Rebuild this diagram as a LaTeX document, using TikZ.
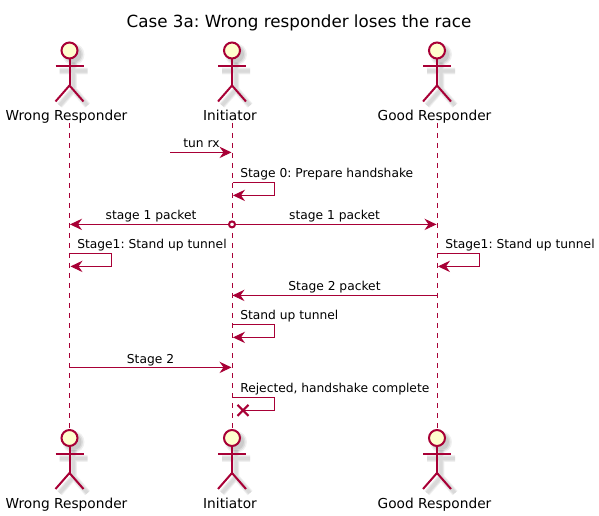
\documentclass[tikz,border=0pt]{standalone}
\usepackage{fontspec}
\setmainfont{DejaVu Sans}
\frenchspacing
\usetikzlibrary{arrows.meta,calc}
\definecolor{puml}{HTML}{A80036}
\definecolor{headfill}{HTML}{FEFECE}
\tikzset{
  x=0.75pt,y=-0.75pt,
  msg/.style={draw=puml,line width=0.75pt,-{Stealth[length=9pt,width=8.5pt,inset=3pt]}},
  msgplain/.style={draw=puml,line width=0.75pt},
  life/.style={draw=puml,line width=0.75pt,dash pattern=on 3.75pt off 3.75pt},
  limb/.style={draw=puml,line width=1.5pt},
  shadeA/.style={draw=black,line width=5pt,opacity=0.05},
  shadeB/.style={draw=black,line width=3.8pt,opacity=0.05},
  shadeC/.style={draw=black,line width=2.4pt,opacity=0.05},
  actorlabel/.style={font=\fontsize{10.3pt}{12pt}\selectfont,text=black,inner sep=0pt,anchor=base},
  msglabel/.style={font=\fontsize{9.2pt}{11pt}\selectfont,text=black,inner sep=0pt,anchor=base},
  titlelabel/.style={font=\fontsize{12.55pt}{16pt}\selectfont,text=black,inner sep=0pt,anchor=center},
}
\newcommand{\stickshadow}{%
  \foreach \st in {shadeA,shadeB,shadeC}{%
    \draw[\st] (4,12) -- (4,39) (-10,20.5) -- (18,20.5) (-10,55) -- (4,39) -- (18,55);
  }%
  \fill[black,opacity=0.06] (4,4) circle (11);
  \fill[black,opacity=0.08] (4,4) circle (9.5);
  \fill[black,opacity=0.08] (4,4) circle (8);
}
% #1 prefix, #2 x of centre, #3 y of head centre
\newcommand{\stickman}[3]{%
  \begin{scope}[shift={(#2,#3)}]
    \stickshadow
    \node[circle,draw=puml,fill=headfill,line width=1.5pt,minimum size=12pt,inner sep=0pt] (#1head) at (0,0) {};
    \draw[limb] (#1head.south) -- (0,35) coordinate (#1hip);
    \coordinate (#1armL) at (-14,16); \coordinate (#1armR) at (14,16);
    \coordinate (#1legL) at (-14,51); \coordinate (#1legR) at (14,51);
    \draw[limb] (#1armL) -- (#1armR);
    \draw[limb] (#1legL) -- (#1hip) -- (#1legR);
  \end{scope}}
\begin{document}
\begin{tikzpicture}
\useasboundingbox (0,0) rectangle (599,516);
\fill[white] (0,0) rectangle (599,516);
\node[titlelabel] (title) at (299,23) {Case 3a: Wrong responder loses the race};

% lifelines
\coordinate (wtop) at (69.5,123); \coordinate (wbot) at (69.5,428);
\coordinate (itop) at (232,123);  \coordinate (ibot) at (232,428);
\coordinate (gtop) at (437,123);  \coordinate (gbot) at (437,428);
\draw[life] (wtop) -- (wbot);
\draw[life] (itop) -- (ibot);
\draw[life] (gtop) -- (gbot);

% actors
\stickman{wt}{69.5}{50.5}
\stickman{it}{232}{50.5}
\stickman{gt}{437}{50.5}
\stickman{wb}{69.5}{438}
\stickman{ib}{232}{438}
\stickman{gb}{437}{438}
\node[actorlabel] (wtl) at (66.5,120.5) {Wrong Responder};
\node[actorlabel] (itl) at (230,120.5) {Initiator};
\node[actorlabel] (gtl) at (434.5,120.5) {Good Responder};
\node[actorlabel] (wbl) at (66.5,508) {Wrong Responder};
\node[actorlabel] (ibl) at (230,508) {Initiator};
\node[actorlabel] (gbl) at (434.5,508) {Good Responder};

% tun rx
\coordinate (m0s) at (170,152.4); \coordinate (m0e) at (231.5,152.4);
\draw[msg] (m0s) -- (m0e);
\node[msglabel] at (201.5,148) {tun rx};

% Stage 0
\coordinate (s0a) at (232.5,182.4); \coordinate (s0b) at (274.5,182.4);
\coordinate (s0c) at (274.5,195.4); \coordinate (s0d) at (233,195.4);
\draw[msg] (s0a) -- (s0b) -- (s0c) -- (s0d);
\node[msglabel,anchor=base west] at (240,178) {Stage 0: Prepare handshake};

% stage 1 packets
\node[circle,draw=puml,fill=white,line width=1.5pt,minimum size=4.5pt,inner sep=0pt] (lost) at (232,224.4) {};
\coordinate (p1w) at (70,224.4); \coordinate (p1g) at (436.5,224.4);
\draw[msg] (lost) -- (p1w);
\draw[msg] (lost) -- (p1g);
\node[msglabel] at (151,220) {stage 1 packet};
\node[msglabel] at (334.5,220) {stage 1 packet};

% Stand up tunnel: wrong responder
\coordinate (s1a) at (70,253.4); \coordinate (s1b) at (111.5,253.4);
\coordinate (s1c) at (111.5,266.4); \coordinate (s1d) at (70.5,266.4);
\draw[msg] (s1a) -- (s1b) -- (s1c) -- (s1d);
\node[msglabel,anchor=base west] at (77,249) {Stage1: Stand up tunnel};

% Stand up tunnel: good responder
\coordinate (s2a) at (437.5,253.4); \coordinate (s2b) at (479.5,253.4);
\coordinate (s2c) at (479.5,266.4); \coordinate (s2d) at (438,266.4);
\draw[msg] (s2a) -- (s2b) -- (s2c) -- (s2d);
\node[msglabel,anchor=base west] at (445,249) {Stage1: Stand up tunnel};

% Stage 2 packet
\coordinate (p2g) at (437,295.4); \coordinate (p2i) at (232.5,295.4);
\draw[msg] (p2g) -- (p2i);
\node[msglabel] at (334.5,291) {Stage 2 packet};

% Stand up tunnel: initiator
\coordinate (s3a) at (232.5,324.4); \coordinate (s3b) at (274.5,324.4);
\coordinate (s3c) at (274.5,337.4); \coordinate (s3d) at (233,337.4);
\draw[msg] (s3a) -- (s3b) -- (s3c) -- (s3d);
\node[msglabel,anchor=base west] at (240,320) {Stand up tunnel};

% Stage 2
\coordinate (p3w) at (70,367.4); \coordinate (p3i) at (231.5,367.4);
\draw[msg] (p3w) -- (p3i);
\node[msglabel] at (150.5,363) {Stage 2};

% Rejected
\coordinate (s4a) at (232.5,397.4); \coordinate (s4b) at (274.5,397.4);
\coordinate (s4c) at (274.5,410.4); \coordinate (s4d) at (243,410.4);
\draw[msgplain] (s4a) -- (s4b) -- (s4c) -- (s4d);
\draw[draw=puml,line width=1.5pt] ($(s4d)+(-5.5,-5.5)$) -- ($(s4d)+(5.5,5.5)$) ($(s4d)+(-5.5,5.5)$) -- ($(s4d)+(5.5,-5.5)$);
\node[msglabel,anchor=base west] at (240,392) {Rejected, handshake complete};
\end{tikzpicture}
\end{document}
